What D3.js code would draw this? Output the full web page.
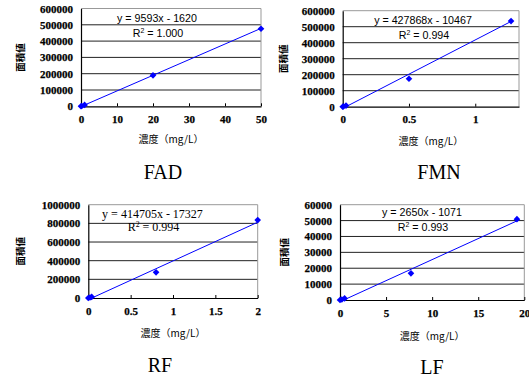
<!DOCTYPE html>
<html>
<head>
<meta charset="utf-8">
<script src="https://cdn.jsdelivr.net/npm/d3@7"></script>
<style>
  body { margin: 0; background: #fff; }
  svg { display: block; }
  .tick text { font-weight: bold; }
</style>
</head>
<body>
<svg id="chart" width="529" height="377"></svg>
<script>
// data
const names = ['FAD', 'FMN', 'RF', 'LF']

const fadConc = [0, 0.2, 1, 20, 50]
const fadArea = [0, 1500, 8500, 190000, 476000]
const fmnConc = [0, 0.005, 0.025, 0.5, 1.27]
const fmnArea = [0, 1000, 7000, 175000, 535000]
const rfConc = [0, 0.02, 0.04, 0.8, 2]
const rfArea = [0, 5000, 12000, 275000, 835000]
const lfConc = [0, 0.2, 0.5, 7.7, 19.2]
const lfArea = [0, 300, 1000, 16800, 50900]

const slopes = [9593, 427868, 414705, 2650]
const intercepts = [-1620, -10467, -17327, -1071]
const r2 = ['1.000', '0.994', '0.994', '0.993']

const xMax = [50, 1.33, 2, 20]
const yMax = [600000, 600000, 1000000, 60000]
const xTicks = [[0, 10, 20, 30, 40, 50], [0, 0.5, 1], [0, 0.5, 1, 1.5, 2], [0, 5, 10, 15, 20]]
const yTicks = [
    [0, 100000, 200000, 300000, 400000, 500000, 600000],
    [0, 100000, 200000, 300000, 400000, 500000, 600000],
    [0, 200000, 400000, 600000, 800000, 1000000],
    [0, 10000, 20000, 30000, 40000, 50000, 60000]
]
const xTitle = '濃度（mg/L）'
const yTitle = '面積値'

const concs = [fadConc, fmnConc, rfConc, lfConc]
const areas = [fadArea, fmnArea, rfArea, lfArea]

// plot boxes and label spots
const boxes = [
    {x0: 81, x1: 261, y0: 8.5, y1: 106.3, eqX: 157, eqY: 18.5, r2Y: 33, serif: false, nameX: 163, nameY: 172, xtY: 139, ytX: 20},
    {x0: 342.7, x1: 519, y0: 10.7, y1: 106.7, eqX: 423, eqY: 20.7, r2Y: 35, serif: false, nameX: 439, nameY: 172, xtY: 141, ytX: 283},
    {x0: 88.3, x1: 257.7, y0: 204.7, y1: 298, eqX: 152.5, eqY: 214, r2Y: 227, serif: true, nameX: 160, nameY: 365, xtY: 333, ytX: 20},
    {x0: 340, x1: 524.3, y0: 204.7, y1: 300, eqX: 422, eqY: 212.7, r2Y: 227, serif: false, nameX: 432, nameY: 367, xtY: 336, ytX: 284}
]

const svg = d3.select('#chart')
const serif = '"Liberation Serif", "Times New Roman", serif'
const sans = '"Liberation Sans", Arial, sans-serif'
const cjk = '"Noto Sans CJK JP", sans-serif'

names.forEach((name, i) => {
    let b = boxes[i]
    let x = d3.scaleLinear().domain([0, xMax[i]]).range([b.x0, b.x1])
    let y = d3.scaleLinear().domain([0, yMax[i]]).range([b.y1, b.y0])
    let g = svg.append('g')

    // gridlines
    g.selectAll('.grid')
        .data(yTicks[i].filter(t => t > 0 && t < yMax[i]))
        .enter()
        .append('line')
        .attr('x1', b.x0)
        .attr('x2', b.x1)
        .attr('y1', t => y(t))
        .attr('y2', t => y(t))
        .attr('stroke', '#222')
        .attr('stroke-width', 1)

    // gray frame top/right
    g.append('path')
        .attr('d', `M${b.x0},${y(yMax[i])}H${x(xMax[i])}V${b.y1}`)
        .attr('fill', 'none')
        .attr('stroke', '#999')
        .attr('stroke-width', 1)

    // axes
    let xAxis = g.append('g')
        .attr('transform', `translate(0,${b.y1})`)
        .call(d3.axisBottom(x).tickValues(xTicks[i]).tickFormat(d3.format('')).tickSizeInner(-3).tickSizeOuter(0).tickPadding(9))
    let yAxis = g.append('g')
        .attr('transform', `translate(${b.x0},0)`)
        .call(d3.axisLeft(y).tickValues(yTicks[i]).tickFormat(d3.format('d')).tickSize(0).tickPadding(8))
    ;[xAxis, yAxis].forEach(ax => {
        ax.attr('font-family', serif).attr('font-size', 11).attr('font-weight', 'bold')
        ax.select('.domain').attr('stroke', '#000').attr('stroke-width', 1.2)
        ax.selectAll('line').attr('stroke', '#000')
        ax.selectAll('text')
            .attr('fill', '#000')
            .attr('stroke', '#000')
            .attr('stroke-width', 0.25)
    })

    // trendline over the data range
    let xs = d3.extent(concs[i])
    let clipId = 'clip' + i
    g.append('clipPath').attr('id', clipId)
        .append('rect')
        .attr('x', b.x0).attr('y', y(yMax[i]))
        .attr('width', x(xMax[i]) - b.x0).attr('height', b.y1 - y(yMax[i]))
    g.append('line')
        .attr('clip-path', `url(#${clipId})`)
        .attr('x1', x(xs[0]))
        .attr('x2', x(xs[1]))
        .attr('y1', y(slopes[i] * xs[0] + intercepts[i]))
        .attr('y2', y(slopes[i] * xs[1] + intercepts[i]))
        .attr('stroke', '#0000ff')
        .attr('stroke-width', 1)

    // points
    g.selectAll('.pt')
        .data(concs[i].map((c, k) => [c, areas[i][k]]))
        .enter()
        .append('path')
        .attr('d', d3.symbol().type(d3.symbolSquare).size(22))
        .attr('transform', d => `translate(${x(d[0])},${y(d[1])}) rotate(45)`)
        .attr('fill', '#0000ff')

    // equation and R²
    let font = b.serif ? serif : sans
    let fs = b.serif ? 12 : 10.7
    g.append('text')
        .attr('x', b.eqX)
        .attr('y', b.eqY + fs * 0.35)
        .attr('text-anchor', 'middle')
        .style('font-family', font)
        .style('font-size', fs + 'px')
        .text(`y = ${slopes[i]}x - ${-intercepts[i]}`)
    let rt = g.append('text')
        .attr('x', b.eqX + 1)
        .attr('y', b.r2Y + fs * 0.35)
        .attr('text-anchor', 'middle')
        .style('font-family', font)
        .style('font-size', fs + 'px')
    rt.append('tspan').text('R')
    rt.append('tspan').attr('dy', -4).style('font-size', (fs * 0.65) + 'px').text('2')
    rt.append('tspan').attr('dy', 4).text(` = ${r2[i]}`)

    // axis titles
    g.append('text')
        .attr('x', (b.x0 + b.x1) / 2)
        .attr('y', b.xtY + 3.5)
        .attr('text-anchor', 'middle')
        .style('font-family', cjk)
        .style('font-size', '10px')
        .text(xTitle)
    g.append('text')
        .attr('transform', `translate(${b.ytX + 3.5},${(b.y0 + b.y1) / 2}) rotate(-90)`)
        .attr('text-anchor', 'middle')
        .style('font-family', cjk)
        .style('font-weight', 'bold')
        .style('font-size', '9.5px')
        .text(yTitle)

    // panel name
    g.append('text')
        .attr('x', b.nameX)
        .attr('y', b.nameY + 7)
        .attr('text-anchor', 'middle')
        .style('font-family', serif)
        .style('font-size', '20px')
        .text(name)
})
</script>
</body>
</html>
